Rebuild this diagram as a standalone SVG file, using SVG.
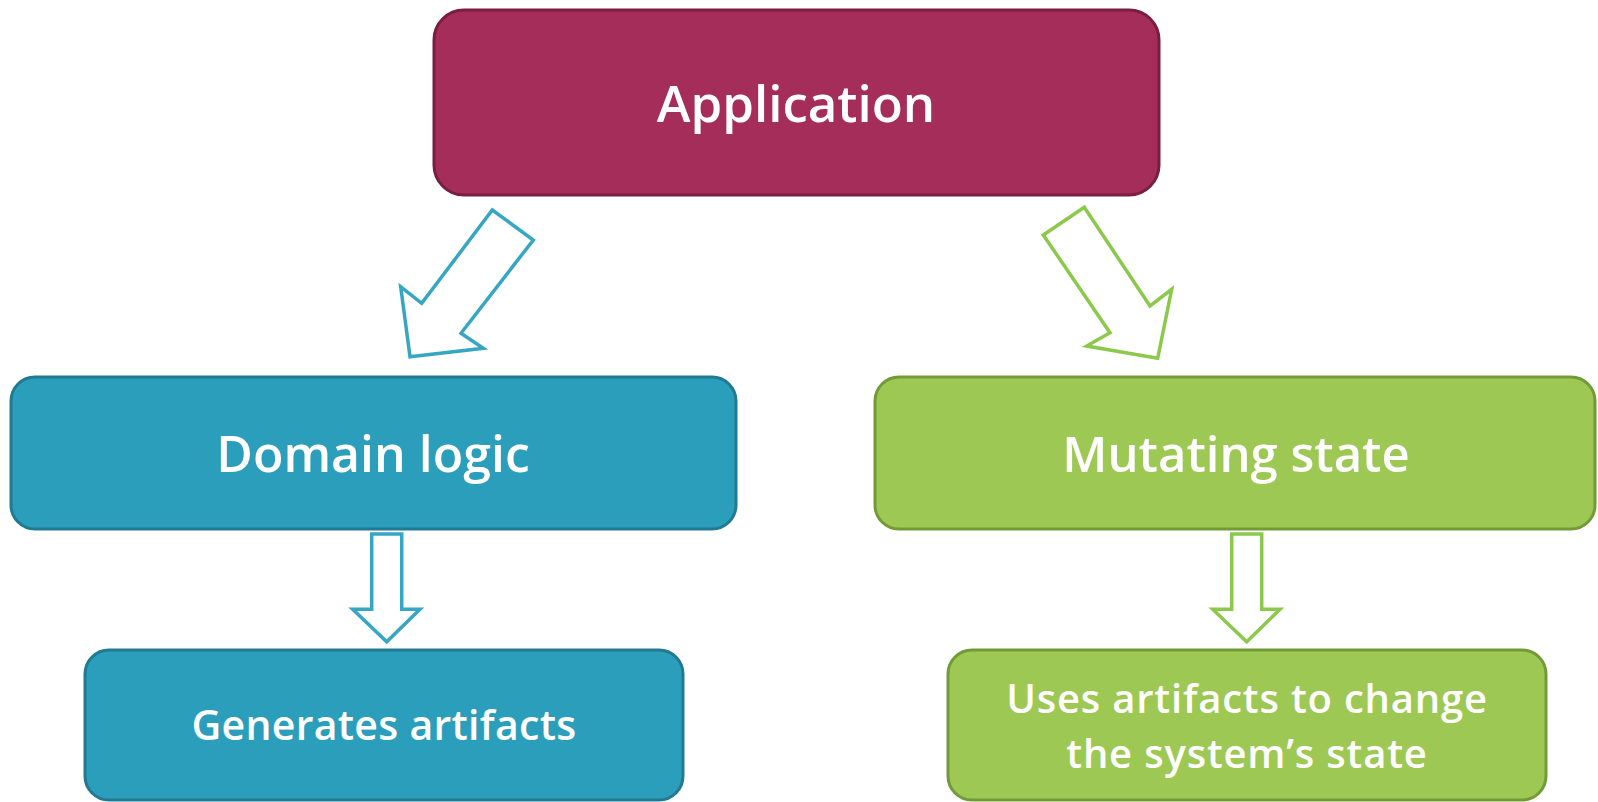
<svg xmlns="http://www.w3.org/2000/svg" width="1598" height="802" viewBox="0 0 1598 802">
<style>
.t{font-family:"Open Sans","Liberation Sans",sans-serif;fill:#ffffff;text-anchor:middle;font-weight:600}
.crim{fill:#a52d5a;stroke:#7a1d40;stroke-width:3}
.teal{fill:#2a9ebb;stroke:#217a92;stroke-width:3}
.green{fill:#9dc853;stroke:#729b38;stroke-width:3}
.at{fill:#ffffff;stroke:#36a6c2;stroke-width:3.5;stroke-linejoin:miter}
.ag{fill:#ffffff;stroke:#8cc84b;stroke-width:3.5;stroke-linejoin:miter}
</style>
<rect width="1598" height="802" fill="#ffffff"/>
<g id="application">
<rect class="crim" x="434" y="10" width="725" height="185" rx="30"/>
<text class="t" x="796" y="122" font-size="51">Application</text>
</g>
<g id="domain-logic">
<rect class="teal" x="11" y="377" width="725" height="152" rx="24"/>
<text class="t" x="373" y="472" font-size="50">Domain logic</text>
</g>
<g id="mutating-state">
<rect class="green" x="875" y="377" width="720" height="152" rx="24"/>
<text class="t" x="1236" y="472" font-size="49">Mutating state</text>
</g>
<g id="generates-artifacts">
<rect class="teal" x="85" y="650" width="598" height="150" rx="24"/>
<text class="t" x="384" y="740" font-size="41" letter-spacing="0.3">Generates artifacts</text>
</g>
<g id="uses-artifacts">
<rect class="green" x="948" y="650" width="598" height="150" rx="24"/>
<text class="t" font-size="40" letter-spacing="0.8"><tspan x="1247" y="713">Uses artifacts to change</tspan><tspan x="1247" y="768">the system’s state</tspan></text>
</g>
<g id="connectors">
<polygon class="at" points="492.3,210 533.3,240 461,333.3 483.3,348.3 410,356.7 400.7,286.7 421.7,303.3"/>
<polygon class="ag" points="1084.3,207.3 1043.3,235 1110,332.7 1086.7,346 1157.7,358.3 1171.7,289.3 1150,306"/>
<polygon class="at" points="371.7,534 401.7,534 401.7,609.3 420,609.3 386.7,641.7 352.7,609.3 371.7,609.3"/>
<polygon class="ag" points="1231.7,534 1261.7,534 1261.7,609.3 1280,609.3 1246.7,641.7 1212.7,609.3 1231.7,609.3"/>
</g>
</svg>
